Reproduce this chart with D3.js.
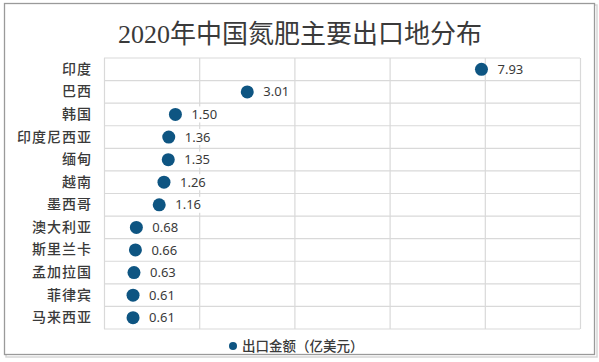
<!DOCTYPE html>
<html>
<head>
<meta charset="utf-8">
<script src="https://cdn.jsdelivr.net/npm/d3@7"></script>
<style>
  body { margin: 0; background: #fff; }
  svg { display: block; }
</style>
</head>
<body>
<svg id="chart"></svg>
<script>
// chart data
const countries = ["印度", "巴西", "韩国", "印度尼西亚", "缅甸", "越南", "墨西哥", "澳大利亚", "斯里兰卡", "孟加拉国", "菲律宾", "马来西亚"];
const exportValues = [7.93, 3.01, 1.50, 1.36, 1.35, 1.26, 1.16, 0.68, 0.66, 0.63, 0.61, 0.61];
const xTicks = [0, 2, 4, 6, 8, 10];
const titleText = "2020年中国氮肥主要出口地分布";
const legendText = "出口金额（亿美元）";

const width = 599;
const height = 362;
const margin = { top: 58, right: 19, bottom: 33, left: 104 };
const innerWidth = width - margin.left - margin.right;
const innerHeight = height - margin.top - margin.bottom;
const dotColor = "#0e5582";
const gridColor = "#d9d9d9";

const svg = d3.select("#chart")
    .attr("width", width)
    .attr("height", height);

// outer frame with a faint shadow
svg.append("rect")
    .attr("x", 6).attr("y", 5)
    .attr("width", 591).attr("height", 352)
    .attr("fill", "none")
    .attr("stroke", "#d6d6d6")
    .attr("stroke-width", 1.5);
svg.append("rect")
    .attr("x", 4.5).attr("y", 3.5)
    .attr("width", 590).attr("height", 351)
    .attr("fill", "#fff")
    .attr("stroke", "#9a9a9a")
    .attr("stroke-width", 1.3);

// title
svg.append("text")
    .attr("x", 300)
    .attr("y", 43)
    .attr("text-anchor", "middle")
    .attr("font-family", "'Liberation Serif', 'Noto Sans CJK SC', serif")
    .attr("font-size", 26)
    .attr("fill", "#3a3a3a")
    .text(titleText);

const xScale = d3.scaleLinear()
    .domain([0, 10])
    .range([0, innerWidth]);

const yScale = d3.scaleBand()
    .domain(countries)
    .range([0, innerHeight])
    .padding(0);

const chartGroup = svg.append("g")
    .attr("transform", `translate(${margin.left},${margin.top})`);

// vertical gridlines
const xAxis = d3.axisBottom(xScale)
    .tickValues(xTicks)
    .tickSize(-innerHeight)
    .tickFormat("");

chartGroup.append("g")
    .attr("class", "x-grid")
    .attr("transform", `translate(0,${innerHeight})`)
    .call(xAxis)
    .call(g => g.select(".domain").remove())
    .call(g => g.selectAll("line").attr("stroke", gridColor).attr("stroke-width", 1.2));

// horizontal gridlines at band edges
const bandEdges = countries.map(c => yScale(c)).concat([innerHeight]);
chartGroup.selectAll(".h-grid")
    .data(bandEdges)
    .enter().append("line")
    .attr("class", "h-grid")
    .attr("x1", 0)
    .attr("x2", innerWidth)
    .attr("y1", d => d)
    .attr("y2", d => d)
    .attr("stroke", gridColor)
    .attr("stroke-width", 1.2);

// category labels
const yAxis = d3.axisLeft(yScale)
    .tickSize(0)
    .tickPadding(12);

chartGroup.append("g")
    .attr("class", "y-axis")
    .call(yAxis)
    .call(g => g.select(".domain").remove())
    .call(g => g.selectAll("text")
        .attr("font-family", "'Noto Sans CJK SC', sans-serif")
        .attr("font-size", 14)
        .attr("font-weight", 500)
        .attr("letter-spacing", 1)
        .attr("fill", "#3a3a3a"));

const points = countries.map((c, i) => ({ name: c, value: exportValues[i] }));

// dots
chartGroup.selectAll(".dot")
    .data(points)
    .enter().append("circle")
    .attr("class", "dot")
    .attr("cx", d => xScale(d.value))
    .attr("cy", d => yScale(d.name) + yScale.bandwidth() / 2)
    .attr("r", 6.5)
    .attr("fill", dotColor);

// value labels sit on a white box, like excel data labels
const labels = chartGroup.selectAll(".value-label")
    .data(points)
    .enter().append("g")
    .attr("class", "value-label")
    .attr("transform", d => `translate(${xScale(d.value) + 16},${yScale(d.name) + yScale.bandwidth() / 2})`);

const labelBoxes = labels.append("rect")
    .attr("fill", "#fff");

labels.append("text")
    .attr("dy", "0.35em")
    .attr("font-family", "'Noto Sans', sans-serif")
    .attr("font-size", 13)
    .attr("fill", "#3a3a3a")
    .text(d => d.value.toFixed(2));

labels.each(function() {
  const g = d3.select(this);
  const box = g.select("text").node().getBBox();
  g.select("rect")
      .attr("x", box.x - 3)
      .attr("y", -8)
      .attr("width", box.width + 6)
      .attr("height", 16);
});

// legend
const legend = svg.append("g")
    .attr("transform", "translate(233,346)");
legend.append("circle")
    .attr("r", 4)
    .attr("fill", dotColor);
legend.append("text")
    .attr("x", 9)
    .attr("dy", "0.36em")
    .attr("font-family", "'Noto Sans CJK SC', sans-serif")
    .attr("font-size", 13.5)
    .attr("font-weight", 500)
    .attr("fill", "#3a3a3a")
    .text(legendText);
</script>
</body>
</html>
